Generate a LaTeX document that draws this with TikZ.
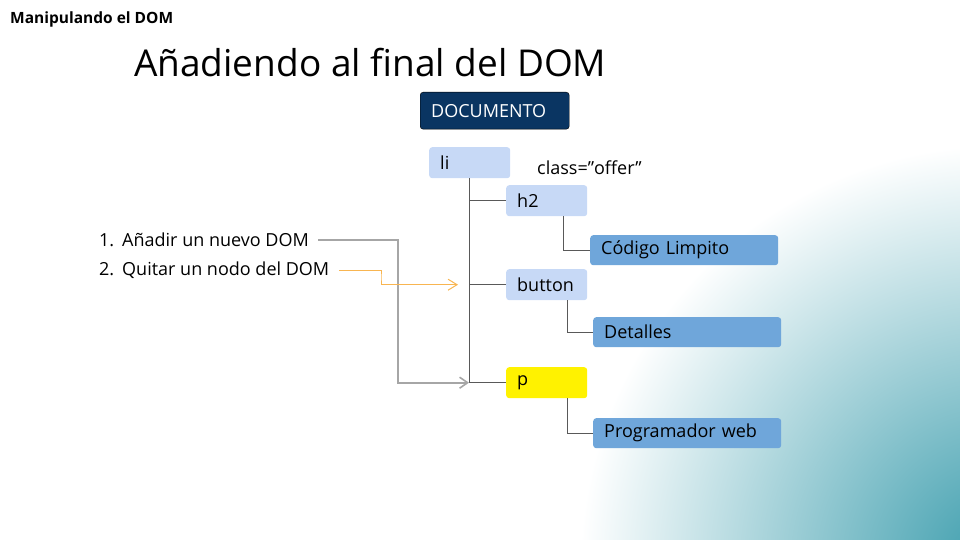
\documentclass[tikz,border=0pt]{standalone}
\usepackage{fontspec}
\setmainfont{Open Sans}
\usetikzlibrary{arrows.meta,positioning}
\definecolor{azulclaro}{HTML}{C7D9F6}
\definecolor{azulmedio}{HTML}{6FA6DA}
\definecolor{azulnoche}{HTML}{0A3562}
\definecolor{gris_linea}{HTML}{595959}
\definecolor{gris_flecha}{HTML}{A6A6A6}
\definecolor{naranja}{HTML}{F8B551}
\definecolor{turquesa}{HTML}{3A9CAC}
\tikzset{
  treenode/.style = {anchor=north west, rounded corners=3pt, inner xsep=11pt, inner ysep=0pt, align=left, font=\fontsize{18}{21}\selectfont},
  nodo_doc/.style = {treenode, fill=azulnoche, draw=black, text=white, text width=127pt, minimum height=37pt},
  nodo_c/.style = {treenode, fill=azulclaro, text width=59pt, minimum height=31pt},
  nodo_h/.style = {treenode, fill=azulmedio, text width=166pt, minimum height=30pt},
  lista/.style = {anchor=west, inner sep=0pt, font=\fontsize{18}{21}\selectfont},
  rama/.style = {draw=gris_linea, line width=0.8pt},
  flecha_g/.style = {draw=gris_flecha, line width=1.6pt, -{Straight Barb[length=8pt,width=11pt]}},
  flecha_n/.style = {draw=naranja, line width=1pt, -{Straight Barb[length=9pt,width=11pt]}}
}
\begin{document}
\begin{tikzpicture}[x=1pt,y=-1pt]
	\useasboundingbox (0,0) rectangle (960,540);
	% fondo
	\begin{scope}
		\clip (0,0) rectangle (960,540);
		\shade[inner color=turquesa, outer color=white] (1000,565) circle (420);
	\end{scope}
	% textos
	\node[anchor=west, inner sep=0pt, font=\bfseries\fontsize{15.5}{18}\selectfont] (cabecera) at (10,19) {Manipulando el DOM};
	\node[anchor=west, inner sep=0pt, font=\fontsize{37}{42}\selectfont] (titulo) at (134,63) {Añadiendo al final del DOM};
	% arbol
	\node[nodo_doc] (doc) at (420,92) {DOCUMENTO};
	\node[nodo_c] (li) at (429,147) {li};
	\node[anchor=west, inner sep=0pt, font=\fontsize{18}{21}\selectfont] (clase) at (537,168) {class=”offer”};
	\node[nodo_c] (h2) at (506,185) {h2};
	\node[nodo_h] (cod) at (590,235) {Código Limpito};
	\node[nodo_c] (button) at (506,269) {button};
	\node[nodo_h] (det) at (593,317) {Detalles};
	\node[nodo_c, fill=yellow] (p) at (506,367) {p};
	\node[nodo_h] (prog) at (593,418) {Programador web};
	\draw[rama] (li.south) |- (h2.west);
	\draw[rama] (li.south) |- (button.west);
	\draw[rama] (li.south) |- (p.west);
	\draw[rama] ([xshift=57pt]h2.south west) |- (cod.west);
	\draw[rama] ([xshift=61pt]button.south west) |- (det.west);
	\draw[rama] ([xshift=61pt]p.south west) |- (prog.west);
	% lista
	\node[lista] (item1) at (99,240) {\makebox[23pt][l]{1.}Añadir un nuevo DOM};
	\node[lista] (item2) at (99,270) {\makebox[23pt][l]{2.}Quitar un nodo del DOM};
	\draw[flecha_g] ([xshift=9pt]item1.east) -| (398,300) |- ([xshift=-37pt]p.west);
	\draw[flecha_n] ([xshift=10pt]item2.east) -| (381,277) |- ([xshift=-48pt]button.west);
\end{tikzpicture}
\end{document}
